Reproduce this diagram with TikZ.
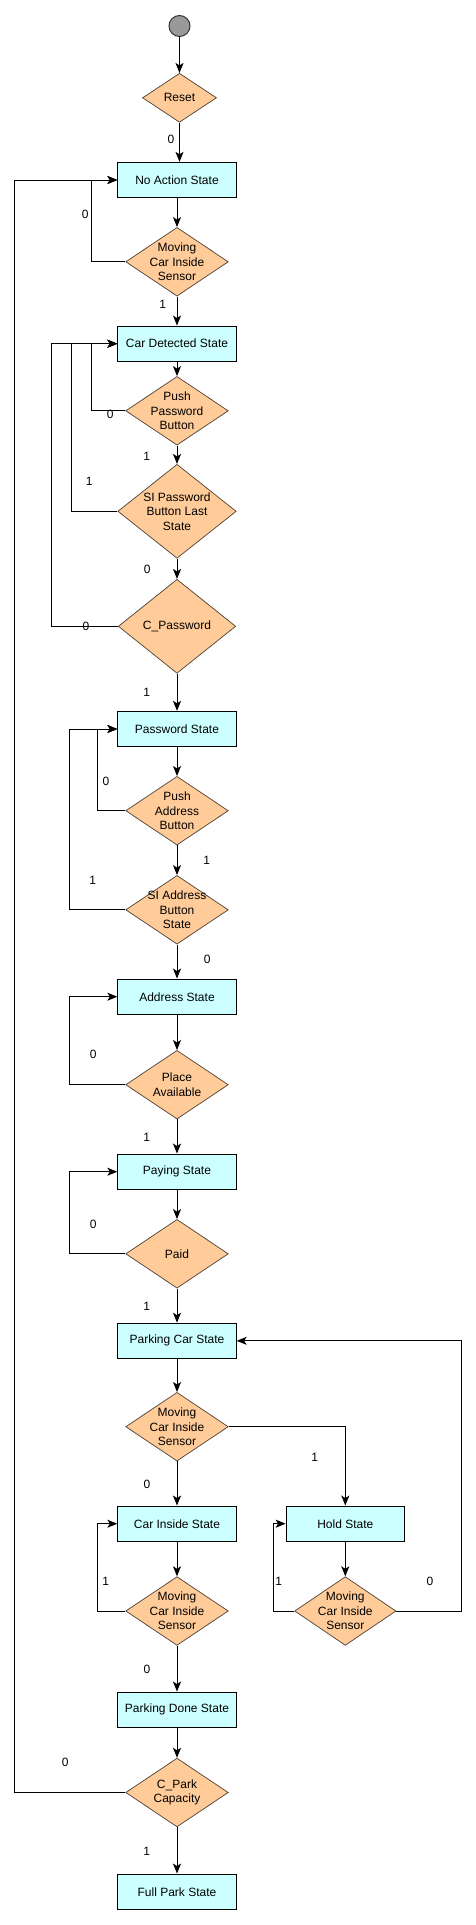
\documentclass[tikz,border=0pt]{standalone}
\usepackage{fontspec}
\setmainfont{Liberation Sans}
\usetikzlibrary{shapes.geometric,arrows.meta}

\definecolor{statefill}{HTML}{CCFFFF}
\definecolor{testfill}{HTML}{FFCC99}
\definecolor{testline}{HTML}{4D4033}
\definecolor{startfill}{HTML}{999999}

\begin{document}
\begin{tikzpicture}[x=1pt, y=-1pt,
    every node/.style={font=\fontsize{12}{14.5}\selectfont},
    state/.style={draw, line width=0.9pt, fill=statefill, minimum width=118.4pt, minimum height=35.4pt, inner sep=0pt},
    test/.style={diamond, draw=testline, line width=0.7pt, fill=testfill, inner sep=0pt, minimum width=102.6pt, minimum height=68.7pt},
    arr/.style={line width=1pt, -{Stealth[length=10pt, width=8pt, inset=2.5pt]}},
    lbl/.style={inner sep=0pt}]

    \useasboundingbox (0,0) rectangle (476,1925);

    % Start and reset
    \node[circle, draw=black!80, line width=1pt, fill=startfill, minimum size=21pt, inner sep=0pt] (start) at (179.5,26) {};
    \node[test, minimum width=74pt, minimum height=49pt, label={center:Reset}] (reset) at (179.5,97.8) {};

    % Main column
    \node[state] (na) at (177,180) {No Action State};
    \node[test, label={[align=center]center:Moving\\Car Inside\\Sensor}] (m1) at (177,261.8) {};
    \node[state] (cd) at (177,343.7) {Car Detected State};
    \node[test, label={[align=center]center:Push\\Password\\Button}] (pp) at (177,410.8) {};
    \node[test, minimum width=118.4pt, minimum height=94pt, label={[align=center]center:SI Password\\Button Last\\State}] (sp) at (177,511.3) {};
    \node[test, minimum width=117.4pt, minimum height=94pt, label={center:C\_Password}] (cpw) at (177,626.3) {};
    \node[state] (ps) at (177,729) {Password State};
    \node[test, label={[align=center]center:Push\\Address\\Button}] (pa) at (177,810.7) {};
    \node[test, label={[align=center]center:SI Address\\Button\\State}] (sa) at (177,909.8) {};
    \node[state] (as) at (177,996.7) {Address State};
    \node[test, label={[align=center]center:Place\\Available}] (pl) at (177,1084.7) {};
    \node[state] (pay) at (177,1171.7) {Paying State};
    \node[test, label={center:Paid}] (paid) at (177,1253.8) {};
    \node[state] (pc) at (177,1340.8) {Parking Car State};
    \node[test, label={[align=center]center:Moving\\Car Inside\\Sensor}] (m2) at (177,1426.7) {};
    \node[state] (ci) at (177,1523.7) {Car Inside State};
    \node[test, label={[align=center]center:Moving\\Car Inside\\Sensor}] (m3) at (177,1611) {};
    \node[state] (pd) at (177,1709.7) {Parking Done State};
    \node[test, label={[align=center]center:C\_Park\\Capacity}] (cap) at (177,1792.5) {};
    \node[state] (fp) at (177,1891.7) {Full Park State};

    % Hold column
    \node[state] (hs) at (345.3,1523.7) {Hold State};
    \node[test, minimum width=101.3pt, label={[align=center]center:Moving\\Car Inside\\Sensor}] (m4) at (345.3,1611) {};

    % Forward arrows
    \draw[arr] (start) -- (reset);
    \draw[arr] (reset.south) -- (reset.south |- na.north) node[lbl] at (171,139.3) {0};
    \draw[arr] (na) -- (m1);
    \draw[arr] (m1) -- (cd) node[lbl] at (162.7,304.3) {1};
    \draw[arr] (cd) -- (pp);
    \draw[arr] (pp) -- (sp) node[lbl] at (146.7,456.7) {1};
    \draw[arr] (sp) -- (cpw) node[lbl] at (147.3,569.3) {0};
    \draw[arr] (cpw) -- (ps) node[lbl] at (146.7,692.3) {1};
    \draw[arr] (ps) -- (pa);
    \draw[arr] (pa) -- (sa) node[lbl] at (206.7,860.7) {1};
    \draw[arr] (sa) -- (as) node[lbl] at (207.3,959.3) {0};
    \draw[arr] (as) -- (pl);
    \draw[arr] (pl) -- (pay) node[lbl] at (146.7,1137.7) {1};
    \draw[arr] (pay) -- (paid);
    \draw[arr] (paid) -- (pc) node[lbl] at (146.7,1306.7) {1};
    \draw[arr] (pc) -- (m2);
    \draw[arr] (m2) -- (ci) node[lbl] at (147,1484.3) {0};
    \draw[arr] (m2.east) -| (hs) node[lbl] at (314.7,1457.7) {1};
    \draw[arr] (ci) -- (m3);
    \draw[arr] (hs) -- (m4);
    \draw[arr] (m3) -- (pd) node[lbl] at (147,1669.3) {0};
    \draw[arr] (pd) -- (cap);
    \draw[arr] (cap) -- (fp) node[lbl] at (146.7,1851.7) {1};

    % Loops back
    \draw[arr] (m1.west) -| ([xshift=-25.7pt]na.west) -- (na.west) node[lbl] at (85.3,214.3) {0};
    \draw[arr] (cap.west) -| ([xshift=-102.7pt]na.west) -- (na.west) node[lbl] at (65.3,1762.7) {0};
    \draw[arr] (pp.west) -| ([xshift=-25.7pt]cd.west) -- (cd.west) node[lbl] at (110.3,414) {0};
    \draw[arr] (sp.west) -| ([xshift=-45.7pt]cd.west) -- (cd.west) node[lbl] at (89.3,481.7) {1};
    \draw[arr] (cpw.west) -| ([xshift=-65.7pt]cd.west) -- (cd.west) node[lbl] at (86,626) {0};
    \draw[arr] (pa.west) -| ([xshift=-19.7pt]ps.west) -- (ps.west) node[lbl] at (106,781) {0};
    \draw[arr] (sa.west) -| ([xshift=-47.7pt]ps.west) -- (ps.west) node[lbl] at (92.7,880.7) {1};
    \draw[arr] (pl.west) -| ([xshift=-47.7pt]as.west) -- (as.west) node[lbl] at (93.3,1054.3) {0};
    \draw[arr] (paid.west) -| ([xshift=-47.7pt]pay.west) -- (pay.west) node[lbl] at (93.3,1224.3) {0};
    \draw[arr] (m3.west) -| ([xshift=-19.7pt]ci.west) -- (ci.west) node[lbl] at (105.7,1581.3) {1};
    \draw[arr] (m4.west) -| ([xshift=-12pt]hs.west) -- (hs.west) node[lbl] at (278.7,1581.3) {1};
    \draw[arr] (m4.east) -| ([xshift=224.7pt]pc.east) -- (pc.east) node[lbl] at (430,1581.3) {0};
\end{tikzpicture}
\end{document}
